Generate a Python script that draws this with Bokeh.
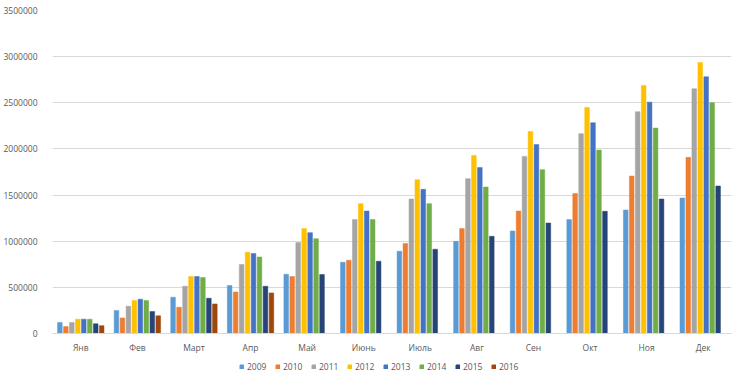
from bokeh.plotting import figure
from bokeh.layouts import column
from bokeh.models import (ColumnDataSource, FactorRange, Range1d, Legend, LegendItem,
                          BasicTickFormatter, SingleIntervalTicker)
from bokeh.transform import dodge
from bokeh.embed import file_html
from bokeh.resources import INLINE

months = ["Янв", "Фев", "Март", "Апр", "Май", "Июнь", "Июль", "Авг", "Сен", "Окт", "Ноя", "Дек"]
years = ["2009", "2010", "2011", "2012", "2013", "2014", "2015", "2016"]

v2009 = [120000, 250000, 393000, 520000, 642000, 772000, 891000, 999000, 1111000, 1234000, 1338000, 1468000]
v2010 = [75000, 169000, 285000, 450000, 617000, 794000, 974000, 1137000, 1327000, 1516000, 1706000, 1909000]
v2011 = [120000, 296000, 512000, 747000, 985000, 1234000, 1457000, 1678000, 1919000, 2165000, 2403000, 2652000]
v2012 = [155000, 358000, 617000, 880000, 1137000, 1407000, 1667000, 1930000, 2190000, 2450000, 2688000, 2937000]
v2013 = [155000, 371000, 617000, 866000, 1093000, 1327000, 1562000, 1800000, 2049000, 2284000, 2507000, 2782000]
v2014 = [155000, 358000, 606000, 829000, 1028000, 1234000, 1407000, 1587000, 1775000, 1988000, 2226000, 2501000]
v2015 = [105000, 238000, 382000, 512000, 639000, 783000, 913000, 1053000, 1197000, 1324000, 1457000, 1598000]
v2016 = [85000, 191000, 320000, 440000]

series = [v2009, v2010, v2011, v2012, v2013, v2014, v2015, v2016]
colors = ["#5B9BD5", "#ED7D31", "#A5A5A5", "#FFC000", "#4472C4", "#70AD47", "#264478", "#9E480E"]

FONT = "Open Sans"
TXT = "#595959"

# main chart
p = figure(width=734, height=359, output_backend="svg", toolbar_location=None,
           x_range=FactorRange(*months, range_padding=0), y_range=Range1d(0, 3500000),
           min_border_left=49, min_border_right=3, min_border_top=10, min_border_bottom=26)
p.x_range.factor_padding = 0
p.outline_line_color = None
p.background_fill_color = "white"
p.border_fill_color = "white"

slot = 0.1055
bw = 0.082
for i, (yr, vals, col) in enumerate(zip(years, series, colors)):
    src = ColumnDataSource(dict(month=months[:len(vals)], val=vals))
    p.vbar(x=dodge("month", (i - 3.5) * slot, range=p.x_range), top="val", width=bw,
           source=src, fill_color=col, line_color=col, line_width=0.5)

p.xgrid.grid_line_color = None
p.ygrid.grid_line_color = "#D9D9D9"
p.ygrid.grid_line_width = 1

p.yaxis.ticker = SingleIntervalTicker(interval=500000)
p.yaxis.formatter = BasicTickFormatter(use_scientific=False)
p.yaxis.axis_line_color = None
p.yaxis.major_tick_line_color = None
p.yaxis.minor_tick_line_color = None
p.yaxis.major_label_standoff = 9
p.yaxis.major_label_text_font = FONT
p.yaxis.major_label_text_font_size = "8.5px"
p.yaxis.major_label_text_color = TXT

p.xaxis.axis_line_color = "#D9D9D9"
p.xaxis.major_tick_line_color = None
p.xaxis.minor_tick_line_color = None
p.xaxis.major_label_standoff = 2
p.xaxis.major_label_text_font = FONT
p.xaxis.major_label_text_font_size = "8.5px"
p.xaxis.major_label_text_color = TXT

# legend strip (swatch renderers hold no drawable value)
lg = figure(width=734, height=14, output_backend="svg", toolbar_location=None,
            x_range=Range1d(0, 1), y_range=Range1d(0, 1), x_axis_type=None, y_axis_type=None,
            min_border_left=0, min_border_right=0, min_border_top=0, min_border_bottom=0)
lg.outline_line_color = None
lg.grid.grid_line_color = None
lg.background_fill_color = "white"
lg.border_fill_color = "white"
items = []
for yr, col in zip(years, colors):
    r = lg.vbar(x=[0.5], top=[float("nan")], bottom=[float("nan")], width=0.1,
                fill_color=col, line_color=col)
    items.append(LegendItem(label=yr, renderers=[r]))

legend = Legend(items=items, orientation="horizontal", location=(187, 1),
                label_text_font=FONT, label_text_font_size="8.5px", label_text_color=TXT,
                glyph_width=5, glyph_height=5, label_standoff=3, spacing=8,
                label_height=12, padding=0, margin=0, border_line_color=None,
                background_fill_alpha=0)
lg.add_layout(legend, "center")

layout = column(p, lg, spacing=0)
open("out.html", "w").write(file_html(layout, INLINE))
